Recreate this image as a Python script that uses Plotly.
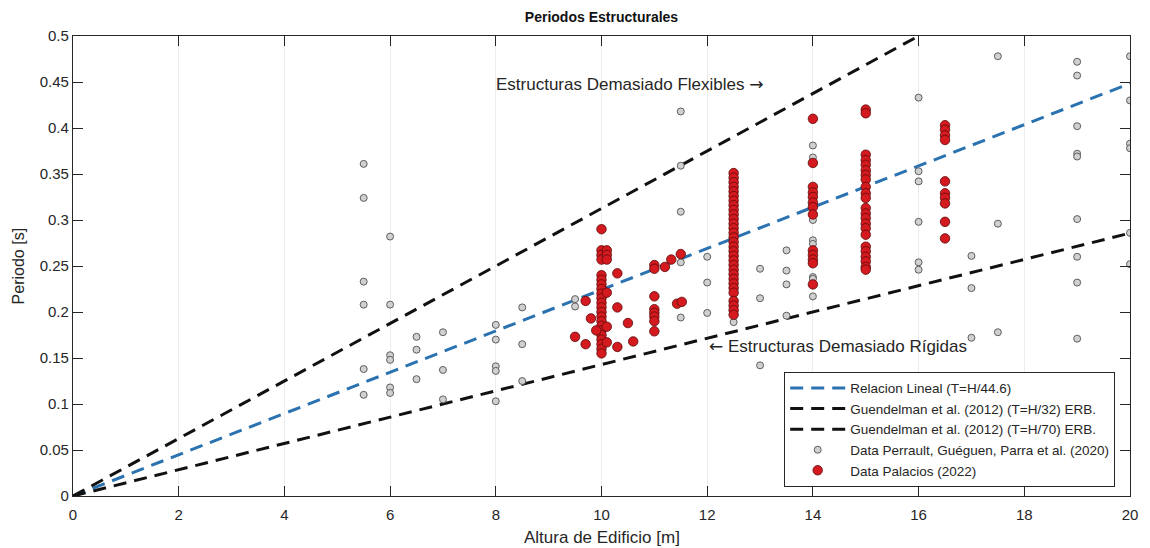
import plotly.graph_objects as go

# ---- data ----
line_H = [0, 20]
coef_lineal = 44.6
coef_32 = 32
coef_70 = 70

perrault_x = ([5.5]*6 + [6]*6 + [6.5]*3 + [7]*3 + [8]*5 + [8.5]*3 + [9.5]*2 +
              [11.5]*5 + [12]*3 + [12.5] + [13]*3 + [13.5]*4 + [14]*8 + [15] +
              [16]*6 + [16.5] + [17]*3 + [17.5]*3 + [19]*9 + [20]*6)
perrault_y = [0.361, 0.324, 0.233, 0.208, 0.138, 0.110,
              0.282, 0.208, 0.153, 0.148, 0.118, 0.112,
              0.173, 0.159, 0.127,
              0.178, 0.137, 0.105,
              0.186, 0.170, 0.141, 0.136, 0.103,
              0.205, 0.165, 0.125,
              0.214, 0.206,
              0.418, 0.359, 0.309, 0.254, 0.194,
              0.260, 0.232, 0.199,
              0.189,
              0.247, 0.215, 0.142,
              0.267, 0.245, 0.230, 0.196,
              0.381, 0.368, 0.300, 0.278, 0.274, 0.238, 0.236, 0.217,
              0.336,
              0.433, 0.353, 0.342, 0.298, 0.254, 0.246,
              0.320,
              0.261, 0.226, 0.172,
              0.478, 0.296, 0.178,
              0.472, 0.457, 0.402, 0.372, 0.369, 0.301, 0.260, 0.232, 0.171,
              0.478, 0.430, 0.383, 0.378, 0.286, 0.252]

pal_10_y = [0.290, 0.267, 0.262, 0.257, 0.240, 0.235, 0.230, 0.225, 0.220, 0.215,
            0.210, 0.205, 0.200, 0.195, 0.190, 0.185, 0.180, 0.175, 0.170, 0.165,
            0.160, 0.155]
pal_101_y = [0.267, 0.262, 0.257, 0.221, 0.184, 0.167]
pal_103_y = [0.242, 0.205, 0.162]
pal_scatter_x = [9.7, 9.8, 9.5, 9.7, 9.9, 10.5, 10.6, 11.2, 11.32, 11.5, 11.43, 11.52]
pal_scatter_y = [0.212, 0.193, 0.173, 0.165, 0.180, 0.188, 0.168, 0.249, 0.257, 0.263, 0.209, 0.211]
pal_11_y = [0.251, 0.247, 0.217, 0.203, 0.199, 0.195, 0.190, 0.179]
pal_125_y = [0.351, 0.346, 0.341, 0.336, 0.331, 0.326, 0.321, 0.316, 0.311, 0.306,
             0.301, 0.296, 0.291, 0.286, 0.281, 0.276, 0.271, 0.266, 0.261, 0.256,
             0.251, 0.246, 0.241, 0.236, 0.231, 0.226, 0.221, 0.212, 0.207, 0.202, 0.197]
pal_14_y = [0.410, 0.362, 0.336, 0.330, 0.325, 0.319, 0.314, 0.306, 0.267, 0.262,
            0.257, 0.253, 0.230]
pal_15_y = [0.420, 0.416, 0.371, 0.365, 0.360, 0.354, 0.349, 0.344, 0.336, 0.329,
            0.324, 0.313, 0.307, 0.302, 0.296, 0.291, 0.284, 0.271, 0.266, 0.260,
            0.255, 0.249, 0.246]
pal_165_y = [0.403, 0.398, 0.392, 0.387, 0.342, 0.329, 0.324, 0.318, 0.298, 0.280]

pal_x = ([10]*len(pal_10_y) + [10.1]*len(pal_101_y) + [10.3]*len(pal_103_y) +
         pal_scatter_x + [11]*len(pal_11_y) + [12.5]*len(pal_125_y) +
         [14]*len(pal_14_y) + [15]*len(pal_15_y) + [16.5]*len(pal_165_y))
pal_y = (pal_10_y + pal_101_y + pal_103_y + pal_scatter_y + pal_11_y + pal_125_y +
         pal_14_y + pal_15_y + pal_165_y)

x_ticks = [0, 2, 4, 6, 8, 10, 12, 14, 16, 18, 20]
y_ticks = [0, 0.05, 0.1, 0.15, 0.2, 0.25, 0.3, 0.35, 0.4, 0.45, 0.5]
y_ticklabels = ["0", "0.05", "0.1", "0.15", "0.2", "0.25", "0.3", "0.35", "0.4", "0.45", "0.5"]

# ---- figure ----
FONT = "Liberation Sans, Arial, sans-serif"
AX = "#262626"
DASH = "13px,8px"
ARROW_SPAN = '<span style="font-family:DejaVu Sans;color:#262626">{}</span>'
fig = go.Figure()

fig.add_trace(go.Scatter(
    x=line_H, y=[h / coef_lineal for h in line_H], mode="lines",
    name="Relacion Lineal (T=H/44.6)",
    line=dict(color="#2b72b0", width=3, dash=DASH)))
fig.add_trace(go.Scatter(
    x=line_H, y=[h / coef_32 for h in line_H], mode="lines",
    name="Guendelman et al. (2012) (T=H/32) ERB.",
    line=dict(color="#111111", width=3, dash=DASH)))
fig.add_trace(go.Scatter(
    x=line_H, y=[h / coef_70 for h in line_H], mode="lines",
    name="Guendelman et al. (2012) (T=H/70) ERB.",
    line=dict(color="#111111", width=3, dash=DASH)))
fig.add_trace(go.Scatter(
    x=perrault_x, y=perrault_y, mode="markers",
    name="Data Perrault, Guéguen, Parra et al. (2020)",
    marker=dict(size=7, color="#d0d0d0", line=dict(color="#5e5e5e", width=1))))
fig.add_trace(go.Scatter(
    x=pal_x, y=pal_y, mode="markers",
    name="Data Palacios (2022)",
    marker=dict(size=9.5, color="#d41a1f", line=dict(color="#5a0a0a", width=0.8))))

fig.add_annotation(x=7.96, y=0.448, xref="x", yref="y", xanchor="left", yanchor="middle",
                   text="Estructuras Demasiado Flexibles " + ARROW_SPAN.format("→"),
                   showarrow=False, font=dict(family=FONT, size=17, color=AX))
fig.add_annotation(x=12.0, y=0.163, xref="x", yref="y", xanchor="left", yanchor="middle",
                   text=ARROW_SPAN.format("←") + " Estructuras Demasiado Rígidas",
                   showarrow=False, font=dict(family=FONT, size=17, color=AX))

# axis titles as annotations for exact placement
fig.add_annotation(x=0.5, y=-41 / 460, xref="paper", yref="paper",
                   xanchor="center", yanchor="middle", showarrow=False,
                   text="Altura de Edificio [m]", font=dict(family=FONT, size=17, color=AX))
fig.add_annotation(x=-55 / 1065, y=0.5, xref="paper", yref="paper",
                   xanchor="center", yanchor="middle", showarrow=False, textangle=-90,
                   text="Periodo [s]", font=dict(family=FONT, size=16, color=AX))

fig.update_layout(
    width=1150, height=548,
    margin=dict(l=73, r=12, t=36, b=52),
    paper_bgcolor="white", plot_bgcolor="white",
    font=dict(family=FONT, size=14, color=AX),
    title=dict(text="<b>Periodos Estructurales</b>", x=0.5, xref="paper", xanchor="center",
               y=1 - 17 / 548, yanchor="middle", font=dict(size=14, color="#111111")),
    showlegend=True,
    legend=dict(x=0.986, xanchor="right", y=0.02, yanchor="bottom",
                bgcolor="white", bordercolor=AX, borderwidth=1, itemwidth=55,
                font=dict(size=13.5, color=AX), tracegroupgap=0),
)
fig.update_xaxes(
    range=[0, 20], tickvals=x_ticks, ticks="inside", ticklen=10, tickwidth=1.3,
    tickcolor=AX, showline=True, linecolor=AX, linewidth=1.3, mirror="ticks",
    showgrid=True, gridcolor="#ececec", gridwidth=1, zeroline=False,
    ticklabelstandoff=5, tickfont=dict(size=15))
fig.update_yaxes(
    range=[0, 0.5], tickvals=y_ticks, ticktext=y_ticklabels, ticks="inside", ticklen=10,
    tickwidth=1.3, tickcolor=AX, showline=True, linecolor=AX, linewidth=1.3,
    mirror="ticks", showgrid=False, zeroline=False, tickfont=dict(size=15))

fig.write_html("out.html")
